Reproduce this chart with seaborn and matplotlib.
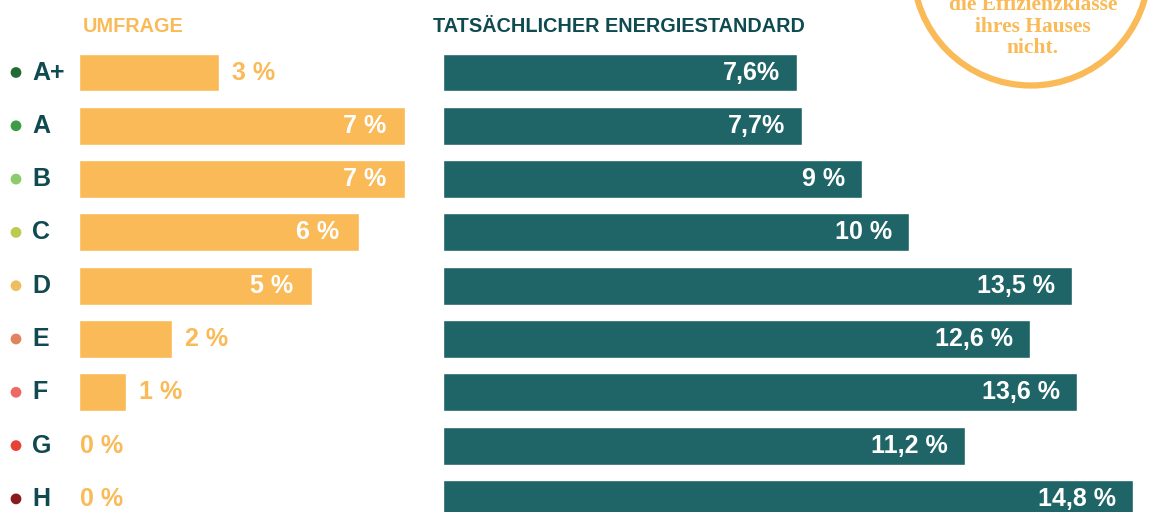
import matplotlib.pyplot as plt
import matplotlib.patches as mpatches
import pandas as pd
import seaborn as sns

# DONNEES --------------------------------

klassen = ["A+", "A", "B", "C", "D", "E", "F", "G", "H"]
umfrage = [3, 7, 7, 6, 5, 2, 1, 0, 0]
umfrage_labels = ["3 %", "7 %", "7 %", "6 %", "5 %", "2 %", "1 %", "0 %", "0 %"]
energiestandard = [7.6, 7.7, 9, 10, 13.5, 12.6, 13.6, 11.2, 14.8]
energie_labels = ["7,6%", "7,7%", "9 %", "10 %", "13,5 %", "12,6 %", "13,6 %", "11,2 %", "14,8 %"]
punkt_farben = ["#236b35", "#3e9b48", "#8bcb6d", "#bccb4e", "#edbe62",
                "#e0845f", "#f06865", "#e84136", "#8b1a1e"]
kreis_text = ["die Effizienzklasse", "ihres Hauses", "nicht."]

ORANGE = "#f9ba57"
PETROL = "#1f6467"
DUNKEL = "#0e4a4f"

df = pd.DataFrame({"klasse": klassen, "umfrage": umfrage, "energie": energiestandard})

sns.set_theme(style="white")
plt.rcParams["font.family"] = ["Liberation Sans", "DejaVu Sans"]

W, H = 1150, 512
PX = 46.6  # pixels par point de pourcentage
fig = plt.figure(figsize=(W / 100, H / 100), dpi=100)

# position verticale : centre de A+ a 72.5 px, pas de 53.3 px
y_top = -72.5 / 53.3
y_bot = (H - 72.5) / 53.3

# UMFRAGE ----------------------------
x0_l = 79
ax_l = fig.add_axes([x0_l / W, 0, 350 / W, 1])
sns.barplot(data=df, x="umfrage", y="klasse", orient="h", color=ORANGE,
            saturation=1, width=0.71, ax=ax_l)
ax_l.set_xlim(0, 350 / PX)
ax_l.set_ylim(y_bot, y_top)

for i, (v, lab) in enumerate(zip(umfrage, umfrage_labels)):
    if v >= 4:
        ax_l.text(v - 0.41, i, lab, ha="right", va="center", color="white",
                  fontsize=18, fontweight="bold")
    else:
        x = v + 0.28 if v > 0 else 0.02
        ax_l.text(x, i, lab, ha="left", va="center", color=ORANGE,
                  fontsize=18, fontweight="bold")

# lettres et points
ax_l.scatter([-(79 - 16) / PX] * len(klassen), range(len(klassen)), s=60,
             c=punkt_farben, clip_on=False, linewidths=0, zorder=3)
for i, k in enumerate(klassen):
    ax_l.text(-(79 - 32) / PX, i, k, ha="left", va="center", color=DUNKEL,
              fontsize=18, fontweight="bold", clip_on=False)

ax_l.text(4 / PX, -0.855, "UMFRAGE", ha="left", va="center", color=ORANGE,
          fontsize=14.3, fontweight="bold")

# ENERGIESTANDARD ----------------------------
x0_r = 443
ax_r = fig.add_axes([x0_r / W, 0, (W - x0_r) / W, 1])
sns.barplot(data=df, x="energie", y="klasse", orient="h", color=PETROL,
            saturation=1, width=0.71, ax=ax_r)
ax_r.set_xlim(0, (W - x0_r) / PX)
ax_r.set_ylim(y_bot, y_top)

for i, (v, lab) in enumerate(zip(energiestandard, energie_labels)):
    ax_r.text(v - 0.36, i, lab, ha="right", va="center", color="white",
              fontsize=18, fontweight="bold")

ax_r.text(-10 / PX, -0.855, "TATSÄCHLICHER ENERGIESTANDARD", ha="left",
          va="center", color=DUNKEL, fontsize=14.3, fontweight="bold",
          clip_on=False)

for ax in (ax_l, ax_r):
    ax.axis("off")

# cercle en haut a droite ----------------------------
ax_c = fig.add_axes([0, 0, 1, 1], zorder=5)
ax_c.set_xlim(0, W)
ax_c.set_ylim(H, 0)
ax_c.axis("off")
ax_c.patch.set_alpha(0)
ax_c.add_patch(mpatches.Circle((1031, -32.5), 118, fill=False,
                               edgecolor=ORANGE, linewidth=4.5))
for j, t in enumerate(kreis_text):
    ax_c.text(1033, 5 + 21.5 * j, t, ha="center", va="center", color=ORANGE,
              fontsize=15.5, fontweight="bold",
              family=["Liberation Serif", "DejaVu Serif"])

fig.savefig("out.png", dpi=100)
